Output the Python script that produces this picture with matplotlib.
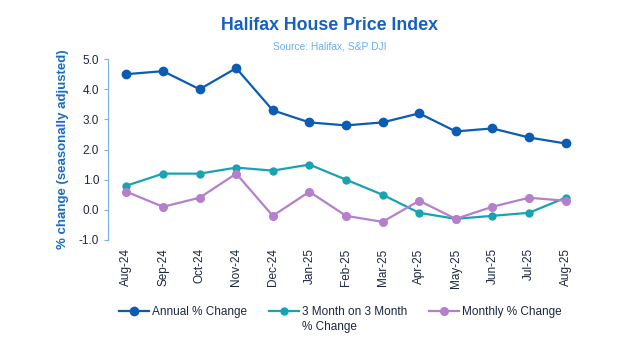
import matplotlib
matplotlib.use("Agg")
import matplotlib.pyplot as plt

# monthly data, Aug-24 .. Aug-25
months = ["Aug-24", "Sep-24", "Oct-24", "Nov-24", "Dec-24", "Jan-25", "Feb-25",
          "Mar-25", "Apr-25", "May-25", "Jun-25", "Jul-25", "Aug-25"]
annual = [4.5, 4.6, 4.0, 4.7, 3.3, 2.9, 2.8, 2.9, 3.2, 2.6, 2.7, 2.4, 2.2]
three_month = [0.8, 1.2, 1.2, 1.4, 1.3, 1.5, 1.0, 0.5, -0.1, -0.3, -0.2, -0.1, 0.4]
monthly = [0.6, 0.1, 0.4, 1.2, -0.2, 0.6, -0.2, -0.4, 0.3, -0.3, 0.1, 0.4, 0.3]
y_ticks = [-1.0, 0.0, 1.0, 2.0, 3.0, 4.0, 5.0]

plt.rcParams["font.family"] = ["Liberation Sans", "DejaVu Sans"]

C_ANNUAL = "#0b5cb5"
C_3M = "#18a3b3"
C_MON = "#b57fcb"
C_TEXT = "#1c2740"
C_SPINE = "#7ab0e6"

fig = plt.figure(figsize=(6.36, 3.56), dpi=100)
ax = fig.add_axes([0.170, 0.326, 0.748, 0.508])

x = list(range(len(months)))
ax.plot(x, annual, color=C_ANNUAL, lw=1.6, marker="o", ms=6, label="Annual % Change")
ax.plot(x, three_month, color=C_3M, lw=1.6, marker="o", ms=5,
        label="3 Month on 3 Month")
ax.plot(x, monthly, color=C_MON, lw=1.6, marker="o", ms=5.5, label="Monthly % Change")

ax.set_xlim(-0.5, len(months) - 0.5)
ax.set_ylim(-1.0, 5.0)
ax.set_yticks(y_ticks)
ax.set_yticklabels([f"{v:.1f}" for v in y_ticks])
ax.set_xticks(x)
ax.set_xticklabels(months, rotation=90)

for s in ["top", "right", "bottom"]:
    ax.spines[s].set_visible(False)
ax.spines["left"].set_color(C_SPINE)
ax.tick_params(axis="y", colors=C_SPINE, labelcolor=C_TEXT, labelsize=8.5, length=3)
ax.tick_params(axis="x", length=0, labelcolor=C_TEXT, labelsize=8.5, pad=6)

ax.set_ylabel("% change (seasonally adjusted)", color="#1a6cc4", fontsize=9.5,
              fontweight="bold", labelpad=7)

fig.text(0.518, 0.929, "Halifax House Price Index", ha="center", va="center",
         color="#1660c0", fontsize=12.8, fontweight="bold")
fig.text(0.519, 0.869, "Source: Halifax, S&P DJI", ha="center", va="center",
         color="#6aaef0", fontsize=7.4)

leg = fig.legend(loc="center", bbox_to_anchor=(0.535, 0.124), ncol=3, frameon=False,
                 fontsize=8.5, handlelength=2.55, columnspacing=1.9,
                 handletextpad=0.2, labelcolor=C_TEXT)

# second line of the middle legend label, under its first line
fig.canvas.draw()
bb = leg.get_texts()[1].get_window_extent().transformed(fig.transFigure.inverted())
fig.text(bb.x0, 0.081, "% Change", ha="left", va="center", color=C_TEXT, fontsize=8.5)

fig.savefig("out.png", dpi=100)
